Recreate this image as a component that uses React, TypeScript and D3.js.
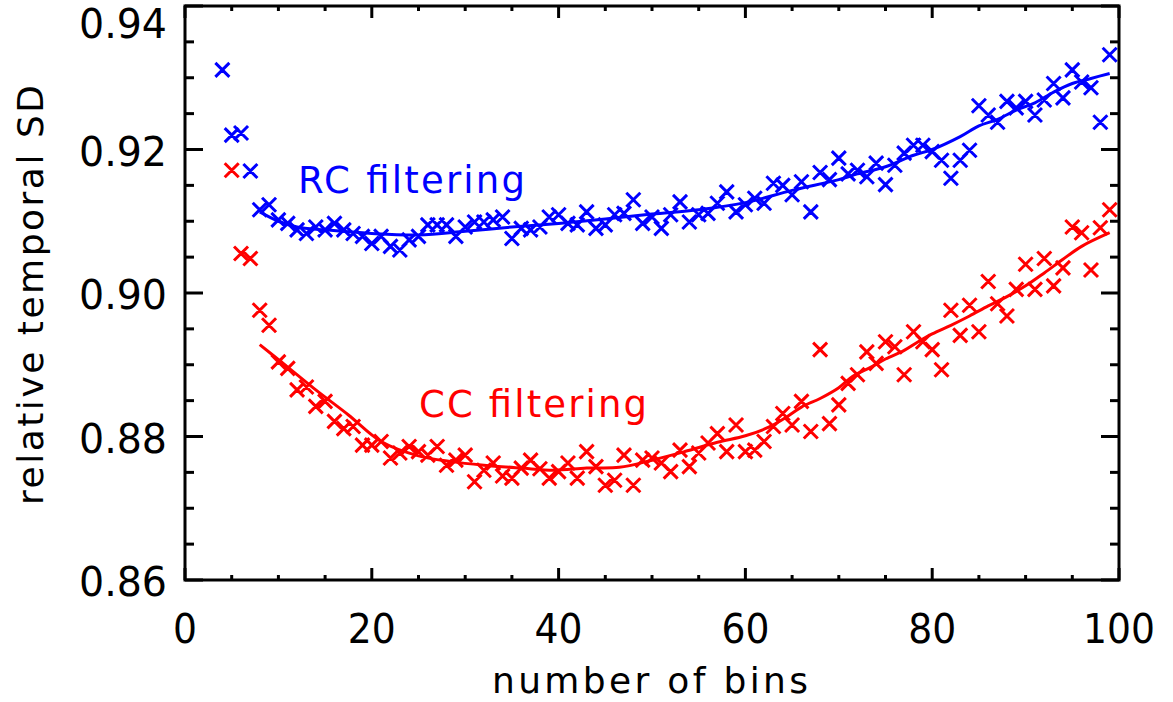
import React from "react";
import * as d3 from "d3";

// ---- data ----
const rcBins = [4,5,6,7,8,9,10,11,12,13,14,15,16,17,18,19,20,21,22,23,24,25,26,27,28,29,30,31,32,33,34,35,36,37,38,39,40,41,42,43,44,45,46,47,48,49,50,51,52,53,54,55,56,57,58,59,60,61,62,63,64,65,66,67,68,69,70,71,72,73,74,75,76,77,78,79,80,81,82,83,84,85,86,87,88,89,90,91,92,93,94,95,96,97,98,99];
const rcValues = [0.9311,0.9220,0.9223,0.9170,0.9116,0.9123,0.9102,0.9097,0.9088,0.9083,0.9092,0.9088,0.9097,0.9088,0.9083,0.9079,0.9069,0.9079,0.9065,0.9060,0.9074,0.9079,0.9095,0.9095,0.9095,0.9079,0.9092,0.9099,0.9099,0.9102,0.9106,0.9076,0.9090,0.9088,0.9092,0.9106,0.9109,0.9097,0.9095,0.9113,0.9090,0.9095,0.9109,0.9111,0.9130,0.9097,0.9106,0.9090,0.9109,0.9127,0.9099,0.9109,0.9111,0.9125,0.9141,0.9113,0.9123,0.9132,0.9125,0.9153,0.9150,0.9137,0.9155,0.9113,0.9168,0.9158,0.9188,0.9166,0.9171,0.9162,0.9181,0.9151,0.9178,0.9195,0.9206,0.9206,0.9197,0.9185,0.9160,0.9185,0.9199,0.9261,0.9248,0.9238,0.9267,0.9258,0.9267,0.9248,0.9269,0.9292,0.9272,0.9311,0.9294,0.9286,0.9238,0.9332];

const ccBins = [5,6,7,8,9,10,11,12,13,14,15,16,17,18,19,20,21,22,23,24,25,26,27,28,29,30,31,32,33,34,35,36,37,38,39,40,41,42,43,44,45,46,47,48,49,50,51,52,53,54,55,56,57,58,59,60,61,62,63,64,65,66,67,68,69,70,71,72,73,74,75,76,77,78,79,80,81,82,83,84,85,86,87,88,89,90,91,92,93,94,95,96,97,98,99];
const ccValues = [0.9171,0.9055,0.9048,0.8976,0.8955,0.8904,0.8895,0.8865,0.8869,0.8842,0.8849,0.8821,0.8811,0.8814,0.8788,0.8788,0.8793,0.8770,0.8777,0.8786,0.8779,0.8774,0.8786,0.8760,0.8767,0.8774,0.8737,0.8753,0.8763,0.8745,0.8742,0.8756,0.8767,0.8755,0.8742,0.8751,0.8763,0.8742,0.8779,0.8758,0.8732,0.8739,0.8774,0.8732,0.8767,0.8770,0.8763,0.8751,0.8781,0.8758,0.8777,0.8791,0.8804,0.8779,0.8816,0.8779,0.8781,0.8793,0.8814,0.8832,0.8816,0.8849,0.8807,0.8921,0.8818,0.8844,0.8874,0.8886,0.8918,0.8902,0.8932,0.8925,0.8886,0.8946,0.8932,0.8921,0.8893,0.8976,0.8941,0.8983,0.8946,0.9016,0.8985,0.8968,0.9005,0.9040,0.9005,0.9048,0.9010,0.9035,0.9092,0.9084,0.9032,0.9091,0.9116];

// smoothed fit curves
const rcFitBins = [8,10,12,15,20,25,30,35,40,45,50,55,60,65,70,72,75,78,80,83,85,87,89,91,93,95,97,99];
const rcFitValues = [0.9113,0.9100,0.9092,0.9088,0.9083,0.9081,0.9086,0.9092,0.9097,0.9103,0.9110,0.9116,0.9126,0.9143,0.9158,0.9166,0.9176,0.9192,0.9200,0.9218,0.9233,0.9242,0.9255,0.9265,0.9280,0.9292,0.9299,0.9306];

const ccFitBins = [8,10.5,14,17.5,21,25,28.5,32,36,39.5,43,46.5,50,53.5,57,60,62.5,64.5,66,68,70,71.5,73.5,75,77,78.5,80,82,84,86,88,90,92,94,96,99];
const ccFitValues = [0.8928,0.8902,0.8865,0.8830,0.8793,0.8773,0.8765,0.8760,0.8756,0.8753,0.8756,0.8757,0.8767,0.8779,0.8792,0.8801,0.8813,0.8828,0.8841,0.8853,0.8868,0.8884,0.8897,0.8908,0.8920,0.8932,0.8943,0.8955,0.8968,0.8982,0.8995,0.9010,0.9028,0.9047,0.9065,0.9084];

const xMajorTicks = [0, 20, 40, 60, 80, 100];
const xMinorTicks = [5, 10, 15, 25, 30, 35, 45, 50, 55, 65, 70, 75, 85, 90, 95];
const yMajorTicks = [0.86, 0.88, 0.90, 0.92, 0.94];
const yMinorTicks = [0.865, 0.87, 0.875, 0.885, 0.89, 0.895, 0.905, 0.91, 0.915, 0.925, 0.93, 0.935];

const BLUE = "#0000ff";
const RED = "#ff0000";
const FONT = "'DejaVu Sans', 'Liberation Sans', sans-serif";

const W = 1173;
const H = 702;
const L = 185, R = 1119, T = 6, B = 580;

export default function App() {
  const x = d3.scaleLinear().domain([0, 100]).range([L, R]);
  const y = d3.scaleLinear().domain([0.86, 0.94]).range([B, T]);

  const line = d3
    .line<[number, number]>()
    .x((d) => x(d[0]))
    .y((d) => y(d[1]))
    .curve(d3.curveCatmullRom.alpha(0.5));

  const cross = (px: number, py: number, h = 7) =>
    `M${px - h},${py - h}L${px + h},${py + h}M${px - h},${py + h}L${px + h},${py - h}`;

  const rcPath = rcBins.map((b, i) => cross(x(b), y(rcValues[i]))).join("");
  const ccPath = ccBins.map((b, i) => cross(x(b), y(ccValues[i]))).join("");

  const rcFit = line(rcFitBins.map((b, i) => [b, rcFitValues[i]] as [number, number])) || "";
  const ccFit = line(ccFitBins.map((b, i) => [b, ccFitValues[i]] as [number, number])) || "";

  const xMajLen = 12, xMinLen = 5, yMajLen = 18, yMinLen = 9;

  return (
    <svg
      width={W}
      height={H}
      style={{ position: "absolute", left: 0, top: 0, background: "#fff" }}
      fontFamily={FONT}
    >
      <rect x={0} y={0} width={W} height={H} fill="#fff" />
      {/* fit lines */}
      <path d={rcFit} fill="none" stroke={BLUE} strokeWidth={3} />
      <path d={ccFit} fill="none" stroke={RED} strokeWidth={3} />
      {/* markers */}
      <path d={rcPath} fill="none" stroke={BLUE} strokeWidth={3} />
      <path d={ccPath} fill="none" stroke={RED} strokeWidth={3} />

      {/* axes box */}
      <rect x={L} y={T} width={R - L} height={B - T} fill="none" stroke="#000" strokeWidth={3} />
      <g stroke="#000" strokeWidth={3}>
        {xMajorTicks.map((t) => (
          <g key={"xm" + t}>
            <line x1={x(t)} x2={x(t)} y1={B} y2={B - xMajLen} />
            <line x1={x(t)} x2={x(t)} y1={T} y2={T + xMajLen} />
          </g>
        ))}
        {xMinorTicks.map((t) => (
          <g key={"xn" + t}>
            <line x1={x(t)} x2={x(t)} y1={B} y2={B - xMinLen} />
            <line x1={x(t)} x2={x(t)} y1={T} y2={T + xMinLen} />
          </g>
        ))}
        {yMajorTicks.map((t) => (
          <g key={"ym" + t}>
            <line x1={L} x2={L + yMajLen} y1={y(t)} y2={y(t)} />
            <line x1={R} x2={R - yMajLen} y1={y(t)} y2={y(t)} />
          </g>
        ))}
        {yMinorTicks.map((t) => (
          <g key={"yn" + t}>
            <line x1={L} x2={L + yMinLen} y1={y(t)} y2={y(t)} />
            <line x1={R} x2={R - yMinLen} y1={y(t)} y2={y(t)} />
          </g>
        ))}
      </g>

      {/* tick labels */}
      {xMajorTicks.map((t) => {
        const s = String(t);
        return (
          <text
            key={"xl" + t}
            x={x(t)}
            y={643}
            fontSize={41}
            textAnchor="middle"
            textLength={24 * s.length}
            lengthAdjust="spacingAndGlyphs"
            fill="#000"
          >
            {s}
          </text>
        );
      })}
      {yMajorTicks.map((t) => (
        <text
          key={"yl" + t}
          x={167}
          y={Math.max(y(t) + 16, 38)}
          fontSize={40}
          textAnchor="end"
          textLength={88}
          lengthAdjust="spacingAndGlyphs"
          fill="#000"
        >
          {t.toFixed(2)}
        </text>
      ))}

      {/* axis titles */}
      <text x={650} y={693} fontSize={36} textAnchor="middle" textLength={316} lengthAdjust="spacing" fill="#000">
        number of bins
      </text>
      <text
        transform={`translate(43, 295) rotate(-90)`}
        fontSize={36}
        textAnchor="middle"
        textLength={420}
        lengthAdjust="spacing"
        fill="#000"
      >
        relative temporal SD
      </text>

      {/* annotations */}
      <text x={298} y={193} fontSize={37} textLength={227} lengthAdjust="spacing" fill={BLUE}>
        RC filtering
      </text>
      <text x={419} y={417} fontSize={37} textLength={228} lengthAdjust="spacing" fill={RED}>
        CC filtering
      </text>
    </svg>
  );
}
